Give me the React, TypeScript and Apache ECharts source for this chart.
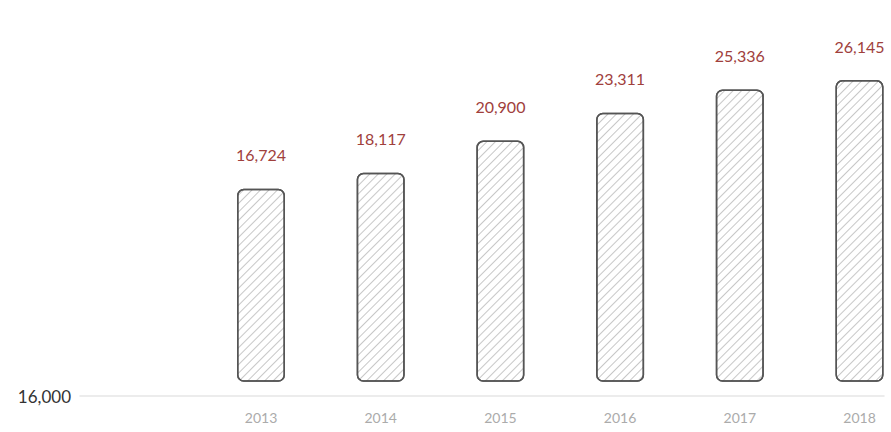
import React, { useEffect, useRef } from "react";
import * as echarts from "echarts";

const years = ["2013", "2014", "2015", "2016", "2017", "2018"];
const values = [16724, 18117, 20900, 23311, 25336, 26145];
const yTickLabels = [16000];

export default function App() {
  const ref = useRef<HTMLDivElement>(null);
  useEffect(() => {
    if (!ref.current) return;
    const chart = echarts.init(ref.current, null, { renderer: "svg" });
    const fmt = (v: number) => v.toLocaleString("en-US");
    chart.setOption({
      animation: false,
      backgroundColor: "#ffffff",
      textStyle: { fontFamily: "Lato" },
      grid: [
        { left: 261, right: 31.5, top: 58.7, bottom: 36 },
        { left: 80, right: 7, top: 58.7, bottom: 36 },
      ],
      xAxis: [
        {
          type: "category",
          gridIndex: 0,
          data: years,
          boundaryGap: false,
          axisLine: { show: false },
          axisTick: { show: false },
          axisLabel: { color: "#ababab", fontSize: 14, margin: 14, fontFamily: "Lato" },
        },
        {
          type: "value",
          gridIndex: 1,
          min: 0,
          max: 1,
          axisLine: { show: true, onZero: false, lineStyle: { color: "#e6e6e6", width: 1.5 } },
          axisTick: { show: false },
          axisLabel: { show: false },
          splitLine: { show: false },
        },
      ],
      yAxis: [
        {
          type: "value",
          gridIndex: 0,
          min: -1240,
          max: 28000,
          show: false,
          splitLine: { show: false },
        },
        {
          type: "value",
          gridIndex: 1,
          min: yTickLabels[0],
          max: yTickLabels[0] * 2,
          interval: yTickLabels[0],
          axisLine: { show: false },
          axisTick: { show: false },
          splitLine: { show: false },
          axisLabel: {
            color: "#333333",
            fontSize: 17,
            margin: 9,
            showMaxLabel: false,
            padding: [0, 0, 8, 0],
            fontFamily: "Lato",
            formatter: (v: number) => fmt(v),
          },
        },
      ],
      series: [
        {
          type: "bar",
          xAxisIndex: 0,
          yAxisIndex: 0,
          data: values,
          barWidth: 48,
          clip: false,
          itemStyle: {
            color: "#ffffff",
            borderColor: "#555555",
            borderWidth: 1.5,
            borderRadius: 6,
            decal: {
              symbol: "rect",
              symbolSize: 1,
              color: "rgba(0,0,0,0.22)",
              dashArrayX: [1, 0],
              dashArrayY: [1, 5],
              rotation: -Math.PI / 4,
            },
          },
          label: {
            show: true,
            position: "top",
            distance: 26,
            color: "#a0403c",
            fontSize: 16,
            fontFamily: "Lato",
            formatter: (p: any) => fmt(p.value),
          },
        },
      ],
    });
    return () => chart.dispose();
  }, []);
  return (
    <div
      ref={ref}
      style={{ position: "fixed", left: 0, top: 0, width: 891, height: 432 }}
    />
  );
}
